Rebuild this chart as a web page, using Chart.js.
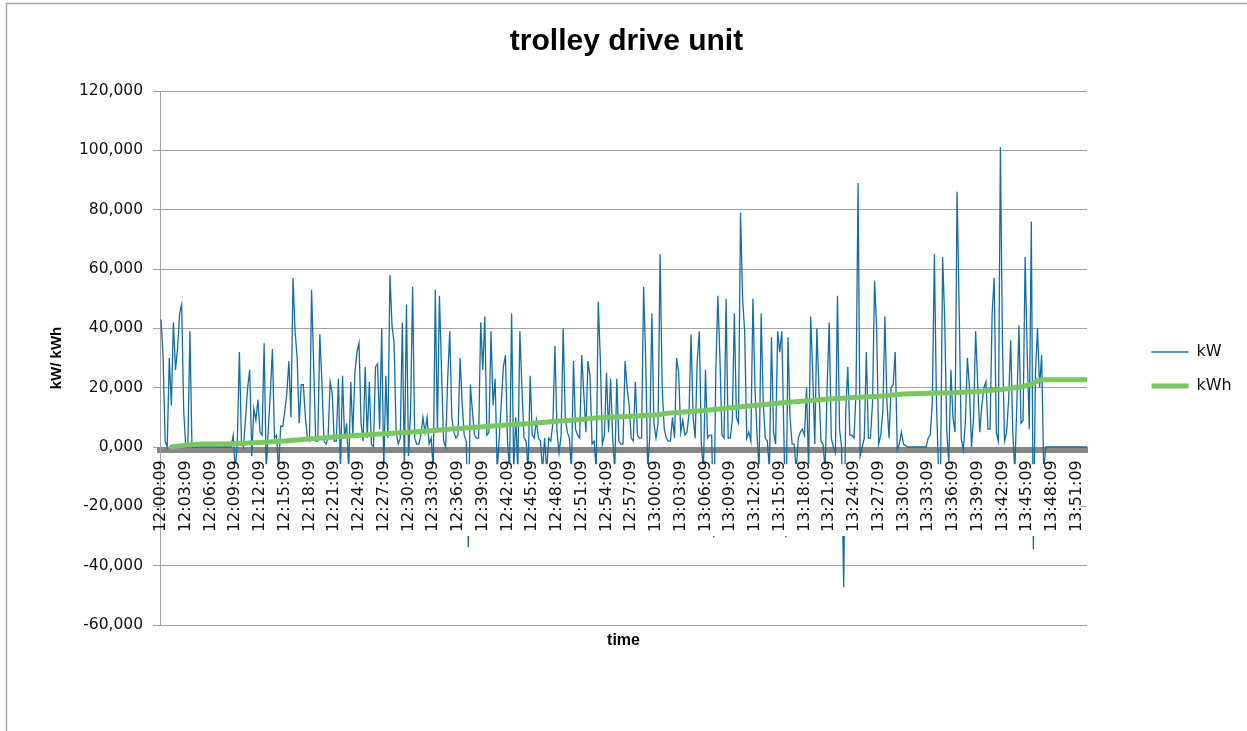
<!DOCTYPE html>
<html><head><meta charset="utf-8">
<script src="https://cdn.jsdelivr.net/npm/chart.js@4.4.1/dist/chart.umd.min.js"></script>
<style>html,body{margin:0;padding:0;background:#fff;}#wrap{width:1247px;height:731px;position:relative;}</style>
</head><body><div id="wrap"><canvas id="c" width="1247" height="731"></canvas></div>
<script>
// kW samples every 15 s starting 12:00:09 (minutes = index * kwStepMinutes)
const kwStepMinutes = 0.25;
const kW = [
43000,30000,2000,0,30000,14000,42000,26000,33000,45000,
48000,12000,0,0,39000,0,0,0,0,0,
0,0,0,0,0,0,0,0,0,0,
0,0,0,0,0,4000,-8000,2000,32000,2000,
0,10000,20000,26000,-3000,13000,9000,16000,5000,4000,
35000,-8000,6000,18000,33000,3000,4000,-8000,7000,7000,
12000,18000,29000,10000,57000,39000,30000,8000,21000,21000,
10000,3000,2000,53000,28000,2000,2000,38000,22000,2000,
1000,3000,22000,18000,2000,2000,23000,-8000,24000,3000,
8000,-8000,22000,4000,25000,32000,35000,8000,2000,27000,
3000,22000,1000,0,27000,28000,6000,40000,-8000,24000,
3000,58000,41000,35000,5000,1000,3000,42000,-8000,48000,
-3000,12000,54000,3000,1000,1000,4000,10000,5000,10000,
1000,3000,-8000,53000,5000,51000,26000,2000,0,23000,
39000,10000,5000,3000,4000,30000,15000,4000,2000,-33700,
21000,12000,4000,3000,3000,42000,26000,44000,4000,5000,
39000,14000,23000,-8000,3000,15000,27000,31000,2000,-8000,
45000,-8000,10000,-8000,39000,20000,3000,2000,-8000,24000,
4000,3000,9000,3000,2000,-8000,3000,-8000,3000,2000,
8000,34000,5000,-2000,4000,40000,10000,5000,3000,-8000,
29000,6000,4000,3000,31000,18000,5000,29000,24000,1000,
2000,-8000,49000,30000,1000,4000,25000,5000,23000,3000,
-8000,23000,2000,1000,1000,29000,20000,14000,3000,2000,
22000,4000,3000,3000,54000,30000,-8000,4000,45000,8000,
3000,8000,65000,20000,6000,3000,2000,2000,10000,3000,
30000,25000,5000,9000,4000,5000,11000,38000,10000,3000,
29000,39000,1000,-8000,26000,3000,4000,4000,-30500,25000,
51000,30000,4000,3000,50000,3000,3000,9000,45000,10000,
8000,79000,50000,39000,3000,5000,2000,50000,20000,4000,
-8000,45000,15000,3000,2000,-8000,37000,5000,1000,39000,
32000,39000,5000,-30500,37000,10000,1000,1000,-8000,3000,
5000,6000,4000,20000,-8000,44000,25000,1000,40000,20000,
2000,1000,-8000,20000,42000,3000,0,-2000,51000,6000,
0,-47200,12000,27000,4000,4000,3000,18000,89000,-3000,
0,3000,32000,3000,3000,15000,56000,40000,1000,4000,
12000,44000,15000,3000,20000,21000,32000,-1000,1000,5000,
1000,500,0,0,0,0,0,0,0,0,
0,0,3000,4000,15000,65000,15000,-8000,-8000,64000,
43000,5000,-5000,26000,10000,5000,86000,47000,3000,-1000,
8000,30000,20000,0,10000,39000,21000,5000,14000,20000,
22000,6000,6000,45000,57000,5000,2000,101000,35000,2000,
5000,16000,36000,5000,-8000,15000,41000,8000,9000,64000,
32000,6000,76000,-34500,25000,40000,20000,31000,-8000,0,
0,0,0,0,0,0,0,0,0,0,
0,0,0,0,0,0,0,0,0,0
];
// cumulative energy read at these minutes after 12:00:09
const kwhMinutes = [1.25,2,3.5,5,9,12,15,18,21,24,27,30,33,36,39,42,45,48,51,53,57,60.5,61,63,66,69,72,75,78,81,84,87,90,93,96,99,102,104.5,105.5,106.4,107,112.25];
const kWh = [0,300,800,1000,1100,1500,2000,2700,3400,4000,4500,5000,5600,6200,6800,7400,8000,8700,9300,9900,10400,10900,11300,11700,12300,13200,14000,14800,15500,16200,16700,17100,17900,18100,18300,18700,19400,20400,21200,22500,22700,22700];
const tickMinutes = [0,3,6,9,12,15,18,21,24,27,30,33,36,39,42,45,48,51,54,57,60,63,66,69,72,75,78,81,84,87,90,93,96,99,102,105,108,111];
const tickLabels = ['12:00:09','12:03:09','12:06:09','12:09:09','12:12:09','12:15:09','12:18:09','12:21:09','12:24:09','12:27:09','12:30:09','12:33:09','12:36:09','12:39:09','12:42:09','12:45:09','12:48:09','12:51:09','12:54:09','12:57:09','13:00:09','13:03:09','13:06:09','13:09:09','13:12:09','13:15:09','13:18:09','13:21:09','13:24:09','13:27:09','13:30:09','13:33:09','13:36:09','13:39:09','13:42:09','13:45:09','13:48:09','13:51:09'];

const framePlugin = {
  id: 'frame',
  beforeDraw(chart) {
    const ctx = chart.ctx;
    ctx.save();
    ctx.strokeStyle = '#a8a8a8';
    ctx.lineWidth = 1.5;
    ctx.beginPath();
    ctx.moveTo(6.5, 731); ctx.lineTo(6.5, 3.5); ctx.lineTo(1247, 3.5);
    ctx.stroke();
    ctx.restore();
  }
};
// white box behind the category labels (hides what runs under them)
const maskPlugin = {
  id: 'labelMask',
  afterDatasetsDraw(chart) {
    const {ctx, chartArea, scales} = chart;
    const top = scales.y.getPixelForValue(-5800);
    const bottom = scales.y.getPixelForValue(-30000);
    const right = scales.x.getPixelForValue(tickMinutes[tickMinutes.length - 1]) + 2;
    ctx.save();
    ctx.fillStyle = '#ffffff';
    ctx.fillRect(chartArea.left + 1, top, right - chartArea.left - 1, bottom - top);
    ctx.restore();
  }
};

Chart.defaults.font.family = "'DejaVu Sans', sans-serif";
new Chart(document.getElementById('c'), {
  type: 'line',
  data: {
    datasets: [
      { label: 'kW', data: kW.map((v, i) => ({x: i * kwStepMinutes, y: v})),
        borderColor: '#156ea3', backgroundColor: '#156ea3', borderWidth: 1.3,
        pointRadius: 0, tension: 0, fill: false, order: 2 },
      { label: 'kWh', data: kwhMinutes.map((m, i) => ({x: m, y: kWh[i]})),
        borderColor: '#79c663', backgroundColor: '#79c663', borderWidth: 5,
        borderCapStyle: 'round', borderJoinStyle: 'round',
        pointRadius: 0, tension: 0, fill: false, order: 1 }
    ]
  },
  options: {
    responsive: false, animation: false, events: [],
    layout: { padding: { left: 19.5, right: 13.5, top: 8, bottom: 76.8 } },
    plugins: {
      title: { display: true, text: 'trolley drive unit', color: '#000',
        font: { family: "'Liberation Sans', Arial, sans-serif", size: 30, weight: 'bold' },
        padding: { top: 15.5, bottom: 31.5 } },
      legend: { position: 'right', maxWidth: 100,
        title: { display: true, text: ' ', font: { size: 1 }, padding: { top: 0, bottom: 74.6 } },
        labels: { usePointStyle: true, pointStyle: 'line', pointStyleWidth: 37, padding: 18,
          color: '#111', font: { size: 16 },
          sort: (a, b) => a.datasetIndex - b.datasetIndex } },
      tooltip: { enabled: false }
    },
    scales: {
      x: {
        type: 'linear', min: -0.125, max: 112.25, position: { y: -1100 },
        afterBuildTicks: s => { s.ticks = tickMinutes.map(v => ({ value: v })); },
        afterFit: s => { s.height = 0; },
        grid: { display: false, drawTicks: false },
        border: { display: true, width: 6, color: '#878787' },
        ticks: { autoSkip: false, minRotation: 90, maxRotation: 90, padding: 10, z: 1,
          color: '#111', font: { size: 16 },
          callback: v => { const k = tickMinutes.indexOf(v); return k >= 0 ? tickLabels[k] : ''; } }
      },
      xt: {
        type: 'linear', position: 'bottom', display: true,
        grid: { display: false, drawTicks: false }, border: { display: false }, ticks: { display: false },
        title: { display: true, text: 'time', color: '#000',
          font: { family: "'Liberation Sans', Arial, sans-serif", size: 16, weight: 'bold' },
          padding: { top: 6, bottom: 4 } }
      },
      y: {
        type: 'linear', position: 'left', min: -60000, max: 120000,
        afterFit: s => { s.width = 140.5; },
        ticks: { stepSize: 20000, padding: 10, color: '#111', font: { size: 15.5 },
          callback: v => (v / 1000) + ',000' },
        grid: { color: '#a3a3a3', lineWidth: 1, tickLength: 7, drawTicks: true },
        border: { display: true, color: '#a3a3a3', width: 1 },
        title: { display: true, text: 'kW/ kWh', color: '#000',
          font: { family: "'Liberation Sans', Arial, sans-serif", size: 15, weight: 'bold' },
          padding: { top: 28.5, bottom: 4 } }
      },
      y2: {
        type: 'linear', position: 'right', display: true,
        afterFit: s => { s.width = 46.5; },
        grid: { display: false, drawTicks: false }, border: { display: false }, ticks: { display: false }
      }
    }
  },
  plugins: [framePlugin, maskPlugin]
});
</script></body></html>
